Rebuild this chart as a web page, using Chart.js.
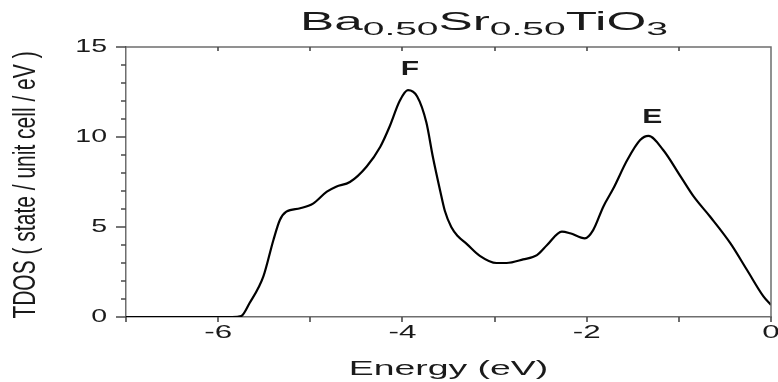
<!DOCTYPE html>
<html>
<head>
<meta charset="utf-8">
<script src="https://cdn.jsdelivr.net/npm/chart.js@4.4.0/dist/chart.umd.min.js"></script>
<style>
  html, body { margin: 0; padding: 0; background: #fff; }
  #wrap { width: 778px; height: 382px; }
</style>
</head>
<body>
<div id="wrap"><canvas id="dosChart" width="778" height="382"></canvas></div>
<script>
// energy (eV) and total DOS
const energy = [-7, -6.5, -5.85, -5.75, -5.66, -5.51, -5.40, -5.33, -5.26, -5.11, -4.97, -4.82, -4.72, -4.57,
    -4.39, -4.24, -4.14, -4.03, -3.94, -3.84, -3.74, -3.67, -3.59, -3.54, -3.47, -3.40, -3.30, -3.16, -2.98, -2.87,
    -2.69, -2.54, -2.43, -2.27, -2.18, -2.02, -1.93, -1.82, -1.71, -1.56, -1.42, -1.33, -1.17, -0.98, -0.84,
    -0.66, -0.44, -0.26, -0.08, 0];
const tdos = [0, 0, 0, 0.05, 0.76, 2.24, 4.28, 5.39, 5.85, 6.04, 6.3, 6.96, 7.24, 7.5,
    8.35, 9.46, 10.57, 12.0, 12.6, 12.25, 10.8, 8.9, 7.0, 5.9, 5.0, 4.5, 4.05, 3.4, 3.0, 3.0,
    3.2, 3.44, 4.0, 4.74, 4.65, 4.37, 4.83, 6.13, 7.15, 8.72, 9.83, 10.06, 9.28, 7.8, 6.7,
    5.57, 4.09, 2.61, 1.13, 0.67];

const xTicks = [-6, -4, -2, 0];
const yTicks = [0, 5, 10, 15];

const peakNames = ['F', 'E'];
const peakX = [-3.92, -1.29];
const peakY = [13.75, 11.1];

const titleParts = [['Ba', false], ['0.50', true], ['Sr', false], ['0.50', true], ['TiO', false], ['3', true]];

const FONT = '"Liberation Sans", Arial, sans-serif';
const AXIS = '#6e6e6e';

// text in the picture is stretched sideways, so draw it that way
function wideText(ctx, str, x, y, sx, font, align) {
    ctx.save();
    ctx.translate(x, y);
    ctx.scale(sx, 1);
    ctx.font = font;
    ctx.textAlign = align || 'center';
    ctx.fillText(str, 0, 0);
    ctx.restore();
}

const textPlugin = {
    id: 'textPlugin',
    afterDraw(chart) {
        const ctx = chart.ctx;
        const area = chart.chartArea;
        const xs = chart.scales.x;
        const ys = chart.scales.y;

        // frame and tick marks
        ctx.save();
        ctx.strokeStyle = AXIS;
        ctx.lineWidth = 1.5;
        ctx.beginPath();
        ctx.moveTo(area.left, area.top);
        ctx.lineTo(area.right, area.top);
        ctx.lineTo(area.right, area.bottom);
        ctx.stroke();
        ctx.strokeStyle = '#4a4a4a';
        ctx.lineWidth = 1.6;
        ctx.beginPath();
        for (let v = -7; v <= 0; v++) {
            const px = Math.round(xs.getPixelForValue(v));
            ctx.moveTo(px, area.bottom);
            ctx.lineTo(px, area.bottom + 5);
            if (v > -7 && v < 0) {
                ctx.moveTo(px, area.top);
                ctx.lineTo(px, area.top + 4);
            }
        }
        for (let v = 0; v <= 15; v++) {
            const py = Math.round(ys.getPixelForValue(v));
            ctx.moveTo(area.left, py);
            ctx.lineTo(area.left - (v % 5 === 0 ? 10 : 5), py);
        }
        ctx.stroke();
        ctx.restore();

        ctx.save();
        ctx.fillStyle = '#1a1a1a';
        ctx.textBaseline = 'middle';

        // tick labels
        yTicks.forEach(v => {
            wideText(ctx, String(v), 107, ys.getPixelForValue(v), 1.5, '19px ' + FONT, 'right');
        });
        xTicks.forEach(v => {
            wideText(ctx, String(v), xs.getPixelForValue(v), 333, 1.65, '19px ' + FONT, 'center');
        });

        // axis titles
        wideText(ctx, 'Energy (eV)', (area.left + area.right) / 2, 369, 1.78, '21px ' + FONT, 'center');

        ctx.save();
        ctx.translate(27, (area.top + area.bottom) / 2 + 3);
        ctx.rotate(-Math.PI / 2);
        ctx.scale(1, 1.45);
        ctx.font = '21px ' + FONT;
        ctx.textAlign = 'center';
        ctx.fillText('TDOS ( state / unit cell / eV )', 0, 0);
        ctx.restore();

        // peak labels
        peakNames.forEach((name, i) => {
            wideText(ctx, name, xs.getPixelForValue(peakX[i]), ys.getPixelForValue(peakY[i]), 1.5,
                'bold 20px ' + FONT, 'center');
        });

        // title with subscripts
        ctx.textBaseline = 'alphabetic';
        let natural = 0;
        titleParts.forEach(p => {
            ctx.font = (p[1] ? '19px ' : '25px ') + FONT;
            natural += ctx.measureText(p[0]).width;
        });
        const sx = 368 / natural;
        let tx = 300;
        titleParts.forEach(p => {
            ctx.save();
            ctx.translate(tx, p[1] ? 34.5 : 29.5);
            ctx.scale(sx, 1);
            ctx.font = (p[1] ? '19px ' : '25px ') + FONT;
            ctx.textAlign = 'left';
            ctx.fillText(p[0], 0, 0);
            const w = ctx.measureText(p[0]).width;
            ctx.restore();
            tx += w * sx;
        });
        ctx.restore();
    }
};

const points = energy.map((e, i) => ({ x: e, y: tdos[i] }));

new Chart(document.getElementById('dosChart').getContext('2d'), {
    type: 'line',
    data: {
        datasets: [{
            label: 'TDOS',
            data: points,
            borderColor: '#000',
            borderWidth: 2.2,
            pointRadius: 0,
            fill: false,
            cubicInterpolationMode: 'monotone'
        }]
    },
    options: {
        responsive: false,
        animation: false,
        layout: { padding: { top: 47, right: 7, left: 0, bottom: 0 } },
        plugins: {
            legend: { display: false },
            tooltip: { enabled: false },
            title: { display: false }
        },
        scales: {
            x: {
                type: 'linear',
                min: -7,
                max: 0,
                ticks: { stepSize: 1, display: false },
                grid: { display: false },
                border: { display: true, color: AXIS, width: 1.5 },
                afterFit(scale) { scale.height = 65; }
            },
            y: {
                min: 0,
                max: 15,
                ticks: { stepSize: 1, display: false },
                grid: { display: false },
                border: { display: true, color: AXIS, width: 1.5 },
                afterFit(scale) { scale.width = 126; }
            }
        }
    },
    plugins: [textPlugin]
});
</script>
</body>
</html>
